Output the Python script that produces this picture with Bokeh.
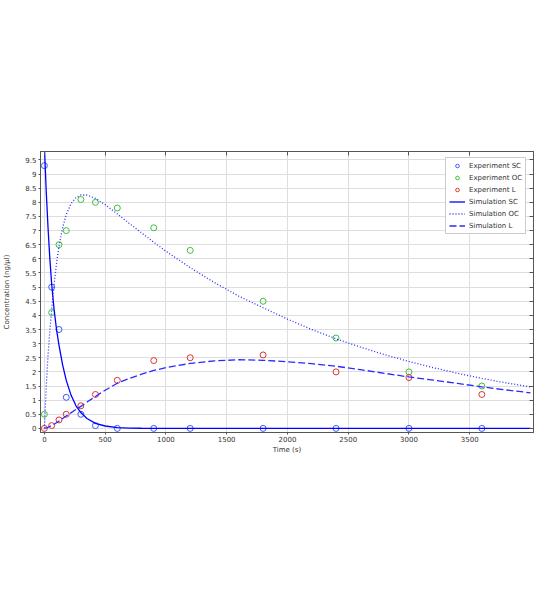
from bokeh.plotting import figure
from bokeh.models import Range1d, LinearAxis, FixedTicker, Legend, LegendItem
from bokeh.embed import file_html
from bokeh.resources import INLINE

# ---- data -------------------------------------------------------------
exp_t = [0, 60, 120, 180, 300, 420, 600, 900, 1200, 1800, 2400, 3000, 3600]
exp_sc = [9.3, 5.0, 3.5, 1.1, 0.5, 0.1, 0.0, 0.0, 0.0, 0.0, 0.0, 0.0, 0.0]
exp_oc = [0.5, 4.1, 6.5, 7.0, 8.1, 8.0, 7.8, 7.1, 6.3, 4.5, 3.2, 2.0, 1.5]
exp_l = [0.0, 0.1, 0.3, 0.5, 0.8, 1.2, 1.7, 2.4, 2.5, 2.6, 2.0, 1.8, 1.2]

sim_sc_t = [0, 15, 30, 45, 60, 80, 100, 120, 150, 180, 220, 260, 300, 350,
            420, 500, 600, 700, 800, 1000, 1500, 2000, 2500, 3000, 3500, 4000]
sim_sc = [10.0, 8.4, 7.1, 6.0, 5.1, 4.2, 3.5, 2.95, 2.25, 1.7, 1.17, 0.8, 0.56, 0.35,
          0.18, 0.085, 0.03, 0.012, 0.005, 0.001, 0.0, 0.0, 0.0, 0.0, 0.0, 0.0]

sim_oc_t = [0, 10, 20, 30, 45, 60, 80, 100, 120, 150, 180, 220, 260, 300, 350,
            420, 500, 600, 700, 800, 900, 1000, 1200, 1400, 1600, 1800, 2000,
            2200, 2400, 2600, 2800, 3000, 3200, 3400, 3600, 3800, 4000]
sim_oc = [0.0, 1.0, 1.85, 2.6, 3.45, 4.2, 5.1, 5.85, 6.44, 7.1, 7.57, 7.96, 8.17, 8.26, 8.26,
          8.14, 7.92, 7.59, 7.25, 6.92, 6.59, 6.27, 5.69, 5.16, 4.68, 4.27, 3.87,
          3.5, 3.17, 2.88, 2.61, 2.37, 2.15, 1.95, 1.77, 1.61, 1.47]

sim_l_t = [0, 30, 60, 100, 150, 200, 250, 300, 360, 420, 500, 600, 700, 800, 900,
           1000, 1200, 1400, 1600, 1800, 2000, 2200, 2400, 2600, 2800, 3000, 3200,
           3400, 3600, 3800, 4000]
sim_l = [0.0, 0.04, 0.1, 0.2, 0.35, 0.5, 0.64, 0.78, 0.96, 1.13, 1.35, 1.6, 1.77, 1.92, 2.05,
         2.15, 2.3, 2.39, 2.43, 2.41, 2.36, 2.29, 2.2, 2.08, 1.95, 1.82, 1.71,
         1.59, 1.47, 1.36, 1.26]

x_ticks = [0, 500, 1000, 1500, 2000, 2500, 3000, 3500]
x_tick_labels = ["0", "500", "1000", "1500", "2000", "2500", "3000", "3500"]
y_ticks = [0, 0.5, 1, 1.5, 2, 2.5, 3, 3.5, 4, 4.5, 5, 5.5, 6, 6.5, 7, 7.5, 8, 8.5, 9, 9.5]
y_tick_labels = ["0", "0.5", "1", "1.5", "2", "2.5", "3", "3.5", "4", "4.5", "5",
                 "5.5", "6", "6.5", "7", "7.5", "8", "8.5", "9", "9.5"]

# ---- style ------------------------------------------------------------
FONT = "DejaVu Sans"
AX = "#555555"
TXT = "#333333"
FS = "7px"

p = figure(width=536, height=598, output_backend="svg", toolbar_location=None,
           x_range=Range1d(-32, 4025), y_range=Range1d(-0.145, 9.8),
           min_border_left=40, min_border_right=3, min_border_top=151,
           min_border_bottom=166)
p.background_fill_color = "white"
p.border_fill_color = "white"
p.outline_line_color = AX
p.outline_line_width = 1

for ax, ticks, labels in ((p.xaxis[0], x_ticks, x_tick_labels),
                          (p.yaxis[0], y_ticks, y_tick_labels)):
    ax.ticker = FixedTicker(ticks=ticks)
    ax.major_label_overrides = dict(zip(ticks, labels))
    ax.major_label_text_font = FONT
    ax.major_label_text_font_size = FS
    ax.major_label_text_color = TXT
    ax.axis_label_text_font = FONT
    ax.axis_label_text_font_size = FS
    ax.axis_label_text_font_style = "normal"
    ax.axis_label_text_color = TXT
    ax.axis_line_color = AX
    ax.major_tick_line_color = AX
    ax.major_tick_out = 2
    ax.major_tick_in = 0
    ax.minor_tick_line_color = None

p.xaxis.axis_label = "Time (s)"
p.xaxis.major_label_standoff = 1
p.xaxis.axis_label_standoff = 1
p.yaxis.axis_label = "Concentration (ng/μl)"
p.yaxis.major_label_standoff = 2
p.yaxis.axis_label_standoff = 11

p.xgrid.ticker = FixedTicker(ticks=x_ticks)
p.ygrid.ticker = FixedTicker(ticks=y_ticks)
p.xgrid.grid_line_color = "#dedede"
p.ygrid.grid_line_color = "#dedede"

top = LinearAxis(ticker=FixedTicker(ticks=x_ticks), major_tick_in=4, major_tick_out=0,
                 major_label_overrides={t: "" for t in x_ticks},
                 major_label_text_font_size=FS, major_label_text_color=None,
                 major_label_standoff=0,
                 minor_tick_line_color=None, axis_line_color=AX, major_tick_line_color=AX)
right = LinearAxis(ticker=FixedTicker(ticks=y_ticks), major_tick_in=4, major_tick_out=0,
                   major_label_overrides={t: "" for t in y_ticks},
                   major_label_text_font_size=FS, major_label_text_color=None,
                   major_label_standoff=0,
                   minor_tick_line_color=None, axis_line_color=AX, major_tick_line_color=AX)
p.add_layout(top, "above")
p.add_layout(right, "right")

# ---- glyphs -----------------------------------------------------------
r_esc = p.scatter(exp_t, exp_sc, marker="circle", size=6, fill_color=None,
                  line_color="#3b5bff", line_width=1)
r_eoc = p.scatter(exp_t, exp_oc, marker="circle", size=6, fill_color=None,
                  line_color="#3fbf3f", line_width=1)
r_el = p.scatter(exp_t, exp_l, marker="circle", size=6, fill_color=None,
                 line_color="#dd3333", line_width=1)
r_ssc = p.line(sim_sc_t, sim_sc, line_color="#0000ff", line_width=1.3)
r_soc = p.line(sim_oc_t, sim_oc, line_color="#2a2aff", line_width=1.3, line_dash="1 2")
r_sl = p.line(sim_l_t, sim_l, line_color="#2a2aff", line_width=1.3, line_dash="7 3")

legend = Legend(items=[
    LegendItem(label="Experiment SC", renderers=[r_esc]),
    LegendItem(label="Experiment OC", renderers=[r_eoc]),
    LegendItem(label="Experiment L", renderers=[r_el]),
    LegendItem(label="Simulation SC", renderers=[r_ssc]),
    LegendItem(label="Simulation OC", renderers=[r_soc]),
    LegendItem(label="Simulation L", renderers=[r_sl]),
], location=(405, 198))
legend.label_text_font = FONT
legend.label_text_font_size = FS
legend.label_text_color = TXT
legend.label_height = 9
legend.glyph_height = 9
legend.glyph_width = 16
legend.label_standoff = 4
legend.spacing = 3
legend.padding = 3
legend.margin = 0
legend.border_line_color = "#999999"
legend.border_line_width = 1
legend.background_fill_color = "white"
legend.background_fill_alpha = 1.0
p.add_layout(legend, "center")

open("out.html", "w").write(file_html(p, INLINE))
